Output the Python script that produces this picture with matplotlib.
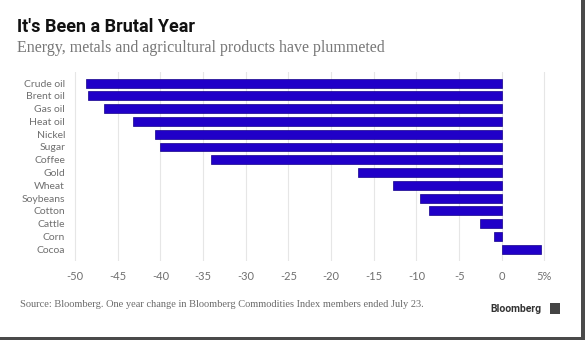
import numpy as np
import matplotlib.pyplot as plt
from matplotlib.patches import Rectangle

commodities = ['Crude oil', 'Brent oil', 'Gas oil', 'Heat oil', 'Nickel', 'Sugar', 'Coffee',
               'Gold', 'Wheat', 'Soybeans', 'Cotton', 'Cattle', 'Corn', 'Cocoa']
pct_change = [-48.7, -48.5, -46.6, -43.2, -40.6, -40.1, -34.1,
              -16.9, -12.8, -9.6, -8.5, -2.6, -0.9, 4.6]
tick_vals = [-50, -45, -40, -35, -30, -25, -20, -15, -10, -5, 0, 5]
tick_text = ['-50', '-45', '-40', '-35', '-30', '-25', '-20', '-15', '-10', '-5', '0', '5%']

fig = plt.figure(figsize=(5.85, 3.4), dpi=100)
fig.patch.set_facecolor('white')

ax = fig.add_axes([0.1137, 0.232, 0.8316, 0.556])
y = np.arange(len(commodities))
ax.barh(y, pct_change, height=0.7, color='#2000c8', edgecolor='#14008a', linewidth=0.5, zorder=3)

ax.set_xlim(-51, 6)
ax.set_ylim(13.93, -0.86)
ax.set_xticks(tick_vals)
ax.set_xticklabels(tick_text)
ax.set_yticks(y)
ax.set_yticklabels(commodities)
ax.tick_params(axis='both', length=0, colors='#707070', labelsize=7.5)
ax.tick_params(axis='x', pad=7, labelsize=8)
ax.tick_params(axis='y', pad=1)
for lab in ax.get_xticklabels() + ax.get_yticklabels():
    lab.set_family('Lato')

ax.grid(axis='x', color='#e6e6e6', linewidth=0.8, zorder=0)
ax.grid(axis='y', visible=False)
for s in ax.spines.values():
    s.set_visible(False)

fig.text(0.029, 0.906, "It's Been a Brutal Year", fontsize=13, fontweight='bold',
         family='Roboto', color='#111111', va='baseline')
fig.text(0.029, 0.847, 'Energy, metals and agricultural products have plummeted',
         fontsize=11.5, family='Liberation Serif', color='#777777', va='baseline')
fig.text(0.035, 0.103, 'Source: Bloomberg. One year change in Bloomberg Commodities Index members ended July 23.',
         fontsize=7.5, family='Liberation Serif', color='#6a6a6a', va='center')
fig.text(0.925, 0.091, 'Bloomberg', fontsize=7.5, fontweight='bold', family='Roboto',
         color='#333333', va='center', ha='right')

# small logo box next to the wordmark
fig.patches.append(Rectangle((0.940, 0.076), 0.017, 0.033, transform=fig.transFigure,
                             facecolor='#444444', edgecolor='none'))

# drop shadow along the right and bottom edges
fig.patches.append(Rectangle((0.993, 0.0), 0.007, 1.0, transform=fig.transFigure,
                             facecolor='#4a4a4a', edgecolor='none'))
fig.patches.append(Rectangle((0.0, 0.0), 1.0, 0.010, transform=fig.transFigure,
                             facecolor='#4a4a4a', edgecolor='none'))

fig.savefig('out.png', dpi=100)
